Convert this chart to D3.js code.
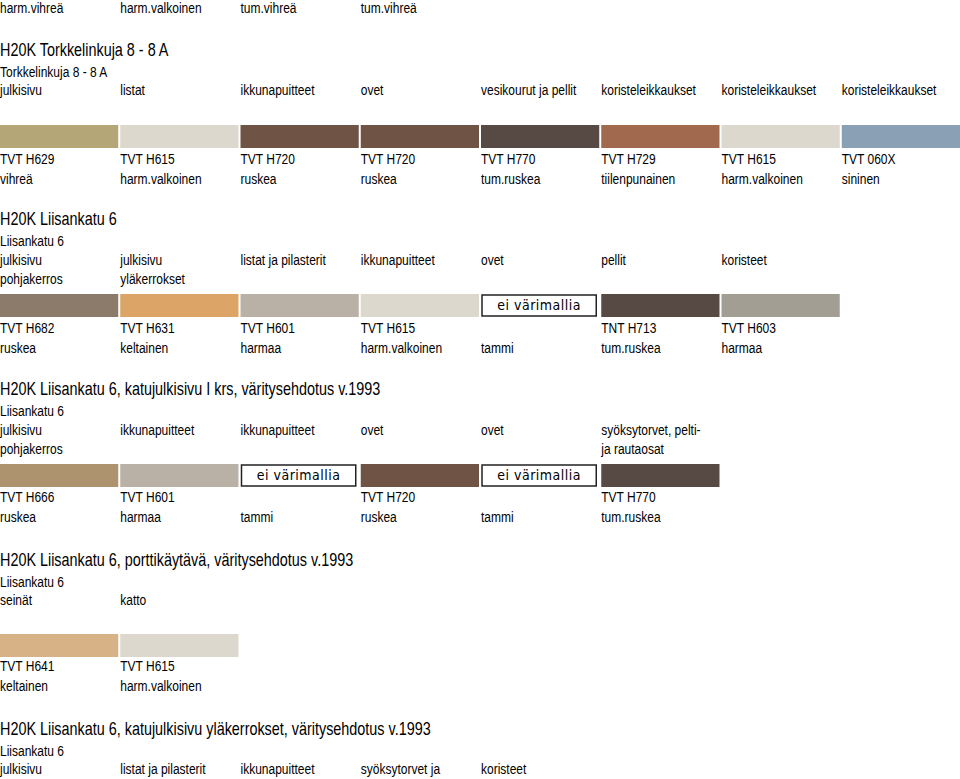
<!DOCTYPE html>
<html><head><meta charset="utf-8">
<script src="https://cdn.jsdelivr.net/npm/d3@7"></script>
<style>
body{margin:0;background:#fff}
text{font-family:"Liberation Sans",Arial,sans-serif;fill:#000}
</style></head><body>
<svg id="chart" width="960" height="779"></svg>
<script>
// top line left over from previous section
const topNames = ['harm.vihreä', 'harm.valkoinen', 'tum.vihreä', 'tum.vihreä']

const titles = [
    'H20K Torkkelinkuja 8 - 8 A',
    'H20K Liisankatu 6',
    'H20K Liisankatu 6, katujulkisivu I krs, väritysehdotus v.1993',
    'H20K Liisankatu 6, porttikäytävä, väritysehdotus v.1993',
    'H20K Liisankatu 6, katujulkisivu yläkerrokset, väritysehdotus v.1993'
]
const subtitles = ['Torkkelinkuja 8 - 8 A', 'Liisankatu 6', 'Liisankatu 6', 'Liisankatu 6', 'Liisankatu 6']

const parts1 = ['julkisivu', 'listat', 'ikkunapuitteet', 'ovet', 'vesikourut ja pellit', 'koristeleikkaukset', 'koristeleikkaukset', 'koristeleikkaukset']
const codes1 = ['TVT H629', 'TVT H615', 'TVT H720', 'TVT H720', 'TVT H770', 'TVT H729', 'TVT H615', 'TVT 060X']
const names1 = ['vihreä', 'harm.valkoinen', 'ruskea', 'ruskea', 'tum.ruskea', 'tiilenpunainen', 'harm.valkoinen', 'sininen']
const colors1 = ['#b5a677', '#dcd8ce', '#6f5446', '#6f5446', '#574a44', '#a1694d', '#dcd8ce', '#8aa0b4']

const parts2 = ['julkisivu\npohjakerros', 'julkisivu\nyläkerrokset', 'listat ja pilasterit', 'ikkunapuitteet', 'ovet', 'pellit', 'koristeet']
const codes2 = ['TVT H682', 'TVT H631', 'TVT H601', 'TVT H615', '', 'TNT H713', 'TVT H603']
const names2 = ['ruskea', 'keltainen', 'harmaa', 'harm.valkoinen', 'tammi', 'tum.ruskea', 'harmaa']
const colors2 = ['#8c7b6b', '#dca466', '#b9b1a6', '#dcd8ce', null, '#574a44', '#a29e94']

const parts3 = ['julkisivu\npohjakerros', 'ikkunapuitteet', 'ikkunapuitteet', 'ovet', 'ovet', 'syöksytorvet, pelti-\nja rautaosat']
const codes3 = ['TVT H666', 'TVT H601', '', 'TVT H720', '', 'TVT H770']
const names3 = ['ruskea', 'harmaa', 'tammi', 'ruskea', 'tammi', 'tum.ruskea']
const colors3 = ['#ae936f', '#b9b1a6', null, '#6f5446', null, '#574a44']

const parts4 = ['seinät', 'katto']
const codes4 = ['TVT H641', 'TVT H615']
const names4 = ['keltainen', 'harm.valkoinen']
const colors4 = ['#d7b287', '#dcd8ce']

const parts5 = ['julkisivu', 'listat ja pilasterit', 'ikkunapuitteet', 'syöksytorvet ja', 'koristeet']

const sections = [
    {parts: parts1, codes: codes1, names: names1, colors: colors1, y: 50, partY: 90, swY: 125, codeY: 164},
    {parts: parts2, codes: codes2, names: names2, colors: colors2, y: 219, partY: 260, swY: 294, codeY: 333},
    {parts: parts3, codes: codes3, names: names3, colors: colors3, y: 389, partY: 430, swY: 464, codeY: 502},
    {parts: parts4, codes: codes4, names: names4, colors: colors4, y: 560, partY: 600, swY: 634, codeY: 671},
    {parts: parts5, codes: null, names: null, colors: null, y: 729, partY: 769}
]

const svg = d3.select('#chart')
const x = d3.scaleBand().domain(d3.range(8)).range([0, 960]).paddingInner(0.0167)
const sw = x.bandwidth()
const SQ = 0.8   // narrow the text like the original condensed face

function place(sel, fx, fy) {
    sel.attr('x', 0).attr('y', 0)
        .attr('transform', (d, i) => `translate(${fx(d, i)},${fy(d, i)}) scale(${SQ},1)`)
}

svg.selectAll('text.top').data(topNames).join('text')
    .attr('class', 'top').style('font-size', '15px').text(d => d)
    .call(place, (d, i) => x(i), () => 13)

sections.forEach((s, k) => {
    const g = svg.append('g')
    g.append('text').style('font-size', '18px').text(titles[k])
        .call(place, () => 0, () => s.y + 6)
    g.append('text').style('font-size', '15px').text(subtitles[k])
        .call(place, () => 0, () => s.y + 27)

    g.selectAll('text.part').data(s.parts).join('text')
        .attr('class', 'part').style('font-size', '15px')
        .call(place, (d, i) => x(i), () => s.partY + 5)
        .each(function(d) {
            d.split('\n').forEach((line, j) => {
                d3.select(this).append('tspan').attr('x', 0)
                    .attr('dy', j ? 19 : 0).text(line)
            })
        })

    if (!s.colors) return

    const cells = g.selectAll('g.sw').data(s.colors).join('g')
        .attr('class', 'sw').attr('transform', (d, i) => `translate(${x(i)},${s.swY})`)
    cells.filter(d => d).append('rect').attr('width', sw).attr('height', 23).attr('fill', d => d)
    const empty = cells.filter(d => !d)
    empty.append('rect').attr('x', 1).attr('y', 1).attr('width', sw - 4).attr('height', 21)
        .attr('fill', '#fff').attr('stroke', '#222').attr('stroke-width', 1.5)
    empty.append('text').attr('x', (sw - 2) / 2).attr('y', 16).attr('text-anchor', 'middle')
        .style('font-size', '14px').style('font-family', '"DejaVu Sans Condensed",sans-serif')
        .style('letter-spacing', '0.5px').text('ei värimallia')

    g.selectAll('text.code').data(s.codes).join('text')
        .attr('class', 'code').style('font-size', '15px').text(d => d)
        .call(place, (d, i) => x(i), () => s.codeY)
    g.selectAll('text.name').data(s.names).join('text')
        .attr('class', 'name').style('font-size', '15px').text(d => d)
        .call(place, (d, i) => x(i), () => s.codeY + 20)
})
</script>
</body></html>
